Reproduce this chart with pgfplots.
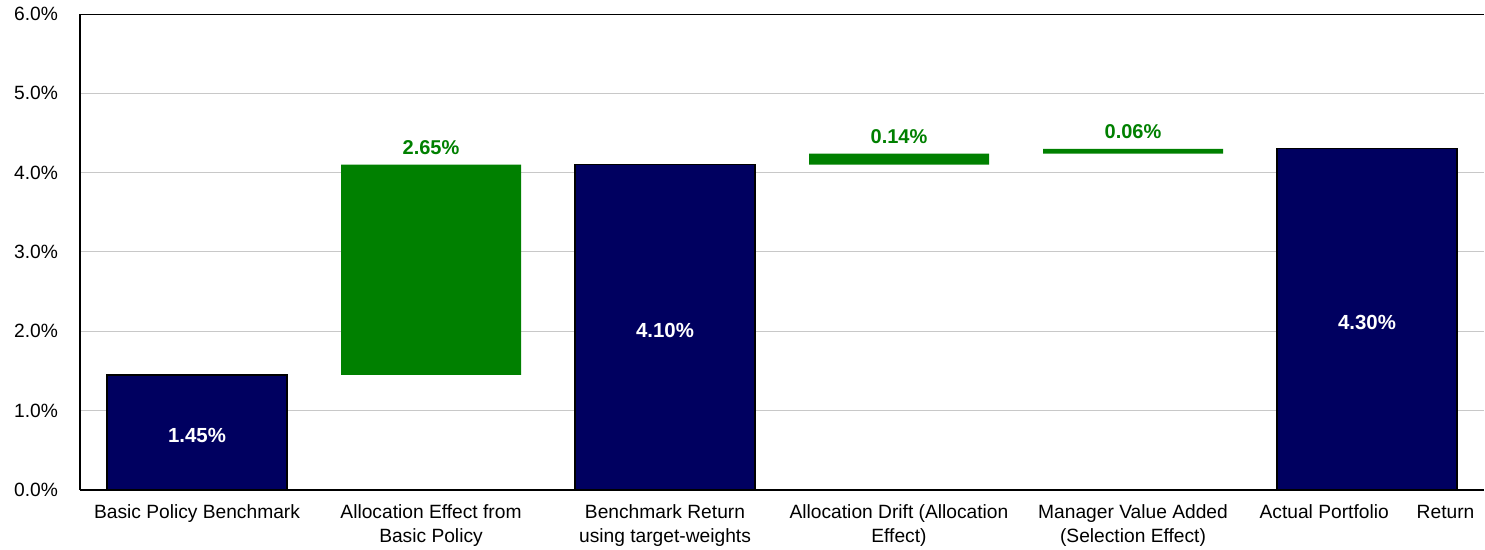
\documentclass[border=0pt]{standalone}
\usepackage{pgfplots}
\pgfplotsset{compat=1.18}
\usepackage{fontspec}
\setmainfont{Liberation Sans}
\definecolor{navy}{HTML}{000060}
\definecolor{wgreen}{HTML}{008000}
\definecolor{gridgray}{HTML}{C8C8C8}
\begin{document}
\begin{tikzpicture}
\useasboundingbox (-40pt,-30pt) rectangle (702.5pt,245pt);
\pgfplotsset{common/.style={
  scale only axis, width=702pt, height=238pt,
  at={(0,0)}, anchor=south west,
  xmin=-0.5, xmax=5.5, ymin=0, ymax=6,
  bar width=90pt,
}}
\begin{axis}[common,
  axis lines*=left,
  axis line style={black, line width=0.8pt},
  ytick={0,1,2,3,4,5,6},
  yticklabels={0.0\%,1.0\%,2.0\%,3.0\%,4.0\%,5.0\%,6.0\%},
  yticklabel style={font=\fontsize{9.6}{11}\selectfont, xshift=-7.5pt},
  xtick={0,1,2,3,4,5},
  xticklabels={Basic Policy Benchmark, Allocation Effect from\\Basic Policy, Benchmark Return\\using target-weights, Allocation Drift (Allocation\\Effect), Manager Value Added\\(Selection Effect), Actual Portfolio\hspace{14pt}Return},
  xticklabel style={font=\fontsize{9.6}{12}\selectfont, align=center, anchor=north, yshift=-4pt},
  major tick length=0pt,
  ymajorgrids, grid style={gridgray, line width=0.5pt},
  ybar, bar shift=0pt,
]
\addplot[fill=navy, draw=black, line width=0.6pt] coordinates {(0,1.45) (2,4.10) (5,4.30)};
\addplot[sharp plot, draw=none, mark=none,
  nodes near coords, point meta=explicit symbolic,
  every node near coord/.style={font=\bfseries\fontsize{10.2}{12}\selectfont, text=white, anchor=center, yshift=-1.5pt},
] coordinates {(0,0.725)[1.45\%] (2,2.05)[4.10\%] (5,2.15)[4.30\%]};
\addplot[sharp plot, draw=none, mark=none,
  nodes near coords, point meta=explicit symbolic,
  every node near coord/.style={font=\bfseries\fontsize{10}{12}\selectfont, text=wgreen, anchor=center, yshift=8.5pt},
] coordinates {(1,4.10)[2.65\%] (3,4.24)[0.14\%] (4,4.30)[0.06\%]};
\draw[black, line width=0.8pt] (rel axis cs:0,1) -- (rel axis cs:1,1);
\end{axis}
\begin{axis}[common, hide axis, ybar stacked, bar shift=0pt]
\addplot[fill=none, draw=none] coordinates {(1,1.45) (3,4.10) (4,4.24)};
\addplot[fill=wgreen, draw=none] coordinates {(1,2.65) (3,0.14) (4,0.06)};
\end{axis}
\end{tikzpicture}
\end{document}
